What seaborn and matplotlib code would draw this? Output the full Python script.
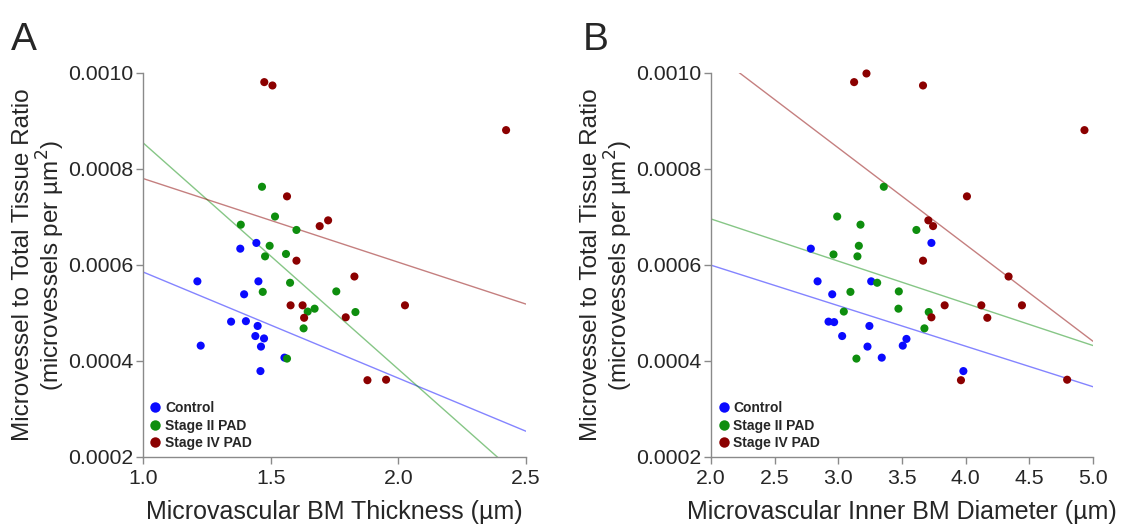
import pandas as pd
import seaborn as sns
import matplotlib.pyplot as plt
from matplotlib.lines import Line2D

groups = ["Control", "Stage II PAD", "Stage IV PAD"]
colors = {"Control": "#0a0aff", "Stage II PAD": "#0e8e0e", "Stage IV PAD": "#8b0000"}

# Panel A: BM thickness (um) vs microvessel ratio
ctrl_thick = [1.213, 1.226, 1.345, 1.381, 1.396, 1.403, 1.444, 1.452, 1.449, 1.440,
              1.474, 1.462, 1.460, 1.554]
ctrl_ratio_a = [0.000566, 0.000432, 0.000482, 0.000634, 0.000539, 0.000483, 0.000646,
                0.000566, 0.000473, 0.000452, 0.000447, 0.000430, 0.000379, 0.000407]
st2_thick = [1.466, 1.517, 1.383, 1.601, 1.496, 1.478, 1.560, 1.576, 1.469, 1.757,
             1.645, 1.672, 1.832, 1.629, 1.564]
st2_ratio_a = [0.000763, 0.000701, 0.000684, 0.000673, 0.000640, 0.000618, 0.000623,
               0.000563, 0.000544, 0.000545, 0.000503, 0.000509, 0.000502, 0.000468,
               0.000405]
# last stage IV point sits just above the y range: not drawn, but it is in the fit
st4_thick = [1.475, 1.507, 2.422, 1.564, 1.692, 1.725, 1.601, 1.828, 1.578, 1.625,
             1.631, 1.794, 2.026, 1.879, 1.952, 1.655]
st4_ratio_a = [0.000981, 0.000974, 0.000881, 0.000743, 0.000681, 0.000693, 0.000609,
               0.000576, 0.000516, 0.000516, 0.000490, 0.000491, 0.000516, 0.000360,
               0.000361, 0.00101]

# Panel B: inner BM diameter (um) vs microvessel ratio
ctrl_diam = [2.784, 2.837, 2.952, 2.923, 2.967, 3.030, 3.258, 3.244, 3.229, 3.341,
             3.535, 3.506, 3.731, 3.982]
ctrl_ratio_b = [0.000634, 0.000566, 0.000539, 0.000482, 0.000481, 0.000452, 0.000566,
                0.000473, 0.000430, 0.000407, 0.000446, 0.000432, 0.000646, 0.000379]
st2_diam = [3.357, 2.991, 3.174, 3.613, 3.161, 2.962, 3.150, 3.305, 3.095, 3.475,
            3.043, 3.472, 3.710, 3.676, 3.142]
st2_ratio_b = [0.000763, 0.000701, 0.000684, 0.000673, 0.000640, 0.000622, 0.000618,
               0.000563, 0.000544, 0.000545, 0.000503, 0.000509, 0.000502, 0.000468,
               0.000405]
st4_diam = [3.124, 3.221, 3.665, 4.933, 4.010, 3.707, 3.744, 3.665, 4.337, 3.835,
            4.123, 4.442, 3.731, 4.170, 3.963, 4.797]
st4_ratio_b = [0.000981, 0.000999, 0.000974, 0.000881, 0.000743, 0.000693, 0.000681,
               0.000609, 0.000576, 0.000516, 0.000516, 0.000516, 0.000491, 0.000490,
               0.000360, 0.000361]

y_lo, y_hi = 0.0002, 0.0010


def make_df(xs, ys):
    frames = []
    for g, x, y in zip(groups, xs, ys):
        frames.append(pd.DataFrame({"x": x, "y": y, "group": g}))
    return pd.concat(frames, ignore_index=True)


df_a = make_df([ctrl_thick, st2_thick, st4_thick], [ctrl_ratio_a, st2_ratio_a, st4_ratio_a])
df_b = make_df([ctrl_diam, st2_diam, st4_diam], [ctrl_ratio_b, st2_ratio_b, st4_ratio_b])

sns.set_style("white")
plt.rcParams["font.family"] = ["Liberation Sans", "DejaVu Sans"]

fig = plt.figure(figsize=(11.26, 5.25), dpi=100)
ax1 = fig.add_axes([143 / 1126, 68 / 525, 383 / 1126, 384 / 525])
ax2 = fig.add_axes([711 / 1126, 68 / 525, 382 / 1126, 384 / 525])

panels = [
    (ax1, df_a, (1.0, 2.5), [1.0, 1.5, 2.0, 2.5], "Microvascular BM Thickness (µm)", "A", -0.345),
    (ax2, df_b, (2.0, 5.0), [2.0, 2.5, 3.0, 3.5, 4.0, 4.5, 5.0],
     "Microvascular Inner BM Diameter (µm)", "B", -0.335),
]

for ax, df, xlim, xticks, xlabel, letter, letter_x in panels:
    ax.set_xlim(*xlim)
    ax.set_ylim(y_lo, y_hi)
    for g in groups:
        sub = df[df["group"] == g]
        sns.regplot(data=sub, x="x", y="y", ax=ax, scatter=False, ci=None,
                    truncate=False, color=colors[g],
                    line_kws={"linewidth": 1.0, "alpha": 0.5})
    shown = df[df["y"] <= y_hi]
    sns.scatterplot(data=shown, x="x", y="y", hue="group", palette=colors, ax=ax,
                    s=34, edgecolor="none", legend=False, zorder=3, clip_on=False)
    ax.set_xlim(*xlim)
    ax.set_ylim(y_lo, y_hi)
    ax.set_xticks(xticks)
    ax.set_xticklabels([f"{t:.1f}" for t in xticks])
    yt = [0.0002, 0.0004, 0.0006, 0.0008, 0.0010]
    ax.set_yticks(yt)
    ax.set_yticklabels([f"{t:.4f}" for t in yt])
    sns.despine(ax=ax)
    for sp in ["left", "bottom"]:
        ax.spines[sp].set_color("#8a8a8a")
        ax.spines[sp].set_linewidth(1.0)
    ax.tick_params(axis="both", direction="out", length=5, width=1, color="#8a8a8a",
                   labelsize=15.3, pad=2, left=True, bottom=True)
    ax.tick_params(axis="x", pad=4)
    ax.set_xlabel(xlabel, fontsize=18)
    ax.xaxis.set_label_coords(0.5, -0.112)
    ax.set_ylabel("Microvessel to Total Tissue Ratio\n(microvessels per µm$^2$)",
                  fontsize=17.5, linespacing=1.05)
    ax.yaxis.set_label_coords(-0.198, 0.5)
    handles = [Line2D([], [], linestyle="none", marker="o", markersize=7.5,
                      markerfacecolor=colors[g], markeredgecolor="none") for g in groups]
    ax.legend(handles, groups, loc="lower left", frameon=False,
              prop={"weight": "bold", "size": 10}, handlelength=0.8,
              handletextpad=0.3, labelspacing=0.25, borderaxespad=0.3,
              borderpad=0.2)
    ax.text(letter_x, 1.04, letter, transform=ax.transAxes,
            fontsize=28, ha="left", va="bottom")

fig.savefig("out.png", dpi=100)
